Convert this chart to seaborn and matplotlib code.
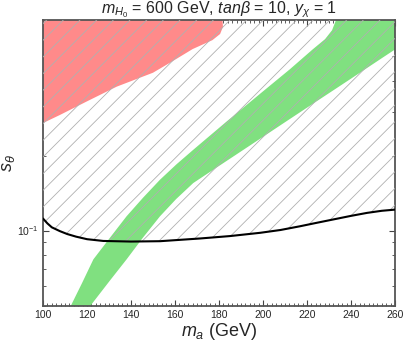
import numpy as np
import pandas as pd
import matplotlib
matplotlib.use("Agg")
import matplotlib.pyplot as plt
import matplotlib.ticker as mticker
import seaborn as sns

# ==========================================
# DATA
# ==========================================
# black exclusion curve s_theta(m_a)
curve_ma = [100, 102, 104, 107.7, 111, 115, 120, 127.4, 140, 153.2, 171.4, 185, 198.7, 208, 216.8, 224, 231.8, 240, 247.3, 254, 260]
curve_s = [0.1117, 0.1068, 0.1030, 0.0994, 0.0968, 0.0945, 0.0923, 0.0908, 0.0903, 0.0906, 0.0929, 0.0950, 0.0979, 0.1005, 0.1040, 0.1072, 0.1107, 0.1145, 0.1177, 0.1200, 0.1213]

# green band (upper-left and lower-right edges)
green_up_ma = [111.0, 113.0, 117.7, 122.9, 130.5, 138.0, 145.5, 153.2, 160.7, 168.3, 183.5, 198.6, 212.3, 222.7, 228.2, 231.4, 233.2, 235.0]
green_up_s = [0.045, 0.0506, 0.0614, 0.0766, 0.0937, 0.1141, 0.1355, 0.1600, 0.1845, 0.2109, 0.2741, 0.3535, 0.4446, 0.5346, 0.5864, 0.6370, 0.7000, 0.8000]
green_lo_ma = [120.5, 122.1, 130.5, 138.0, 145.5, 153.2, 160.5, 168.3, 180.0, 195.0, 210.0, 225.0, 240.0, 255.0, 265.0]
green_lo_s = [0.045, 0.0506, 0.0631, 0.0766, 0.0938, 0.1141, 0.1337, 0.1551, 0.1816, 0.2222, 0.2721, 0.3329, 0.4070, 0.4985, 0.5700]

# red region (lower edge, then top corner)
red_ma = [95, 100, 107.7, 120, 133.5, 150, 159.2, 168, 177, 180.5, 181.8, 181.5]
red_s = [0.255, 0.270, 0.291, 0.330, 0.378, 0.430, 0.480, 0.535, 0.581, 0.615, 0.657, 0.720]

xmin, xmax = 100, 260
ymin, ymax = 0.05, 0.7

# ==========================================
# STYLE
# ==========================================
sns.set_theme(style="ticks")
plt.rcParams['font.family'] = ['Liberation Sans', 'DejaVu Sans']
plt.rcParams['mathtext.fontset'] = 'custom'
plt.rcParams['mathtext.rm'] = 'Liberation Sans'
plt.rcParams['mathtext.it'] = 'Liberation Sans:italic'
plt.rcParams['hatch.linewidth'] = 0.6
plt.rcParams['hatch.color'] = '#b0b0b0'

fig = plt.figure(figsize=(4.03, 3.43), dpi=100)
ax = fig.add_axes([43/403, 1 - 305.5/343, (395 - 43)/403, (305.5 - 20)/343])

# red region
ax.fill(red_ma + [95], red_s + [0.72], color='#ff8a8a', lw=0, zorder=1)

# green band
band_x = green_up_ma + [275] + green_lo_ma[::-1]
band_y = green_up_s + [0.8] + green_lo_s[::-1]
ax.fill(band_x, band_y, color='#80e080', lw=0, zorder=2)

# hatched region above the black curve
cdf = pd.DataFrame({'ma': curve_ma, 's': curve_s})
ax.fill_between(cdf['ma'], cdf['s'], 1.0, facecolor='none', edgecolor='#b0b0b0',
                hatch='//', linewidth=0, zorder=3)

sns.lineplot(data=cdf, x='ma', y='s', color='black', linewidth=1.5, ax=ax, zorder=4)

# axes
ax.set_yscale('log')
ax.set_xlim(xmin, xmax)
ax.set_ylim(ymin, ymax)
ax.xaxis.set_major_locator(mticker.MultipleLocator(20))
ax.xaxis.set_minor_locator(mticker.MultipleLocator(2))
ax.yaxis.set_major_locator(mticker.LogLocator(base=10))
ax.yaxis.set_minor_locator(mticker.LogLocator(base=10, subs=np.arange(2, 10)))
ax.yaxis.set_minor_formatter(mticker.NullFormatter())
ax.tick_params(which='both', direction='in', top=True, right=True, labelsize=7.5,
               color='#444444', pad=3)
ax.tick_params(which='major', length=4, width=0.8)
ax.tick_params(which='minor', length=2, width=0.6)
for sp in ax.spines.values():
    sp.set_linewidth(1.3)
    sp.set_color('#555555')

ax.set_xlabel(r'$m_a$ (GeV)', fontsize=13, labelpad=1)
ax.set_ylabel(r'$s_\theta$', fontsize=13, labelpad=0)
ax.set_title(r'$m_{H_0}$ = 600 GeV, $tan\beta$ = 10, $y_\chi$ = 1', fontsize=11.5, pad=3)

fig.savefig('out.png', dpi=100)
